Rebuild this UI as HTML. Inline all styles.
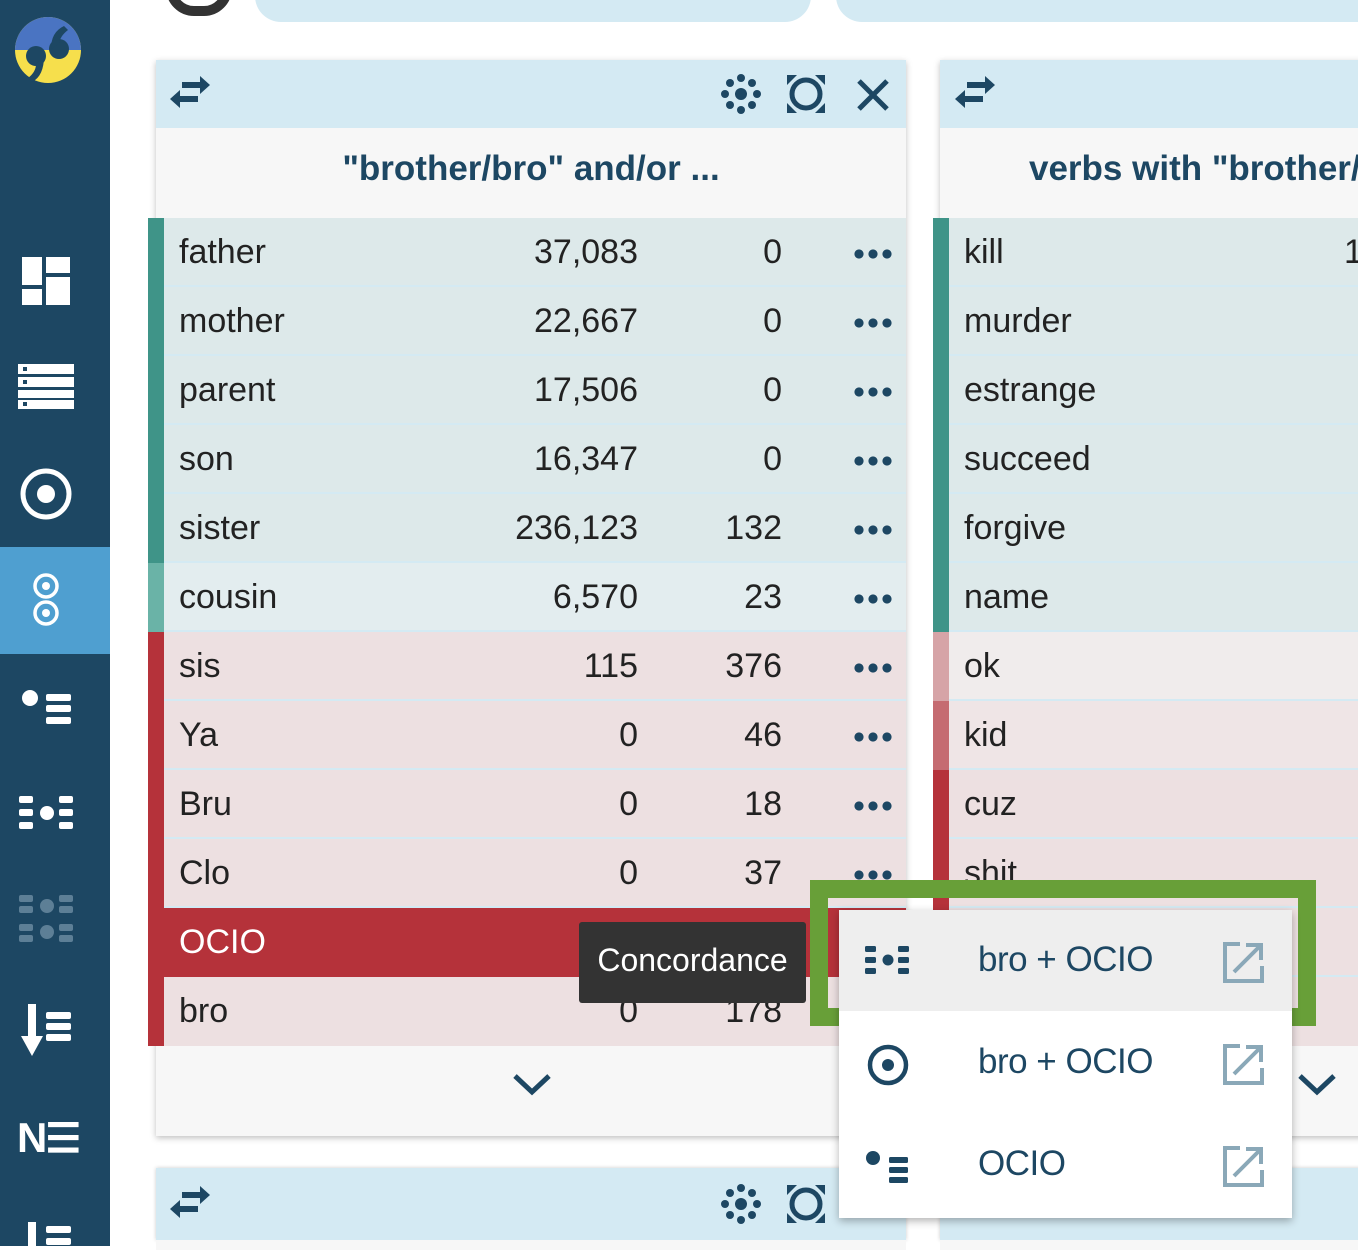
<!DOCTYPE html>
<html><head><meta charset="utf-8"><style>
*{margin:0;padding:0;box-sizing:border-box}
body{width:1358px;height:1246px;overflow:hidden;background:#fff;font-family:"Liberation Sans",sans-serif;position:relative}
.a{position:absolute}
.sb{left:0;top:0;width:110px;height:1246px;background:#1d4763}
.hdr{background:#d4eaf3}
.row{position:absolute;height:69px;font-size:34px;color:#222;border-bottom:2px solid #d4eaf3}
.row span{position:absolute;top:15px}
.n1{right:268px;text-align:right}
.n2{right:124px;text-align:right}
.dots{position:absolute;left:690px;top:31px;width:38px;height:10px;background:radial-gradient(circle at 5px 5px,#1d4763 4.3px,transparent 4.8px) 0 0/14px 10px repeat-x}
</style></head><body>
<div class="a sb"></div>
<svg class="a" style="left:14px;top:16px" width="68" height="68" viewBox="0 0 68 68">
<circle cx="34" cy="34" r="33" fill="#f6df4c"/><path d="M1 34A33 33 0 0 1 67 34Z" fill="#4a74c2"/>
<circle cx="22" cy="40" r="10" fill="#1d4763"/><path d="M30 40 Q30 60 18 66 L14 62 Q22 56 22 48Z" fill="#1d4763"/>
<circle cx="45" cy="33" r="10" fill="#1d4763"/><path d="M37 33 Q37 16 50 10 L54 14 Q46 20 45 28Z" fill="#1d4763"/>
</svg>
<svg class="a" style="left:20px;top:255px" width="52" height="52"><rect x="2" y="2" width="20" height="28" fill="#fff"/><rect x="26" y="2" width="24" height="16" fill="#fff"/><rect x="2" y="34" width="20" height="16" fill="#fff"/><rect x="26" y="22" width="24" height="28" fill="#fff"/></svg>
<svg class="a" style="left:18px;top:364px" width="56" height="46"><rect x="0" y="0" width="56" height="10" fill="#fff"/><rect x="0" y="13" width="56" height="10" fill="#fff"/><rect x="0" y="26" width="56" height="8" fill="#fff"/><rect x="0" y="36" width="56" height="9" fill="#fff"/><rect x="5" y="3" width="4" height="4" fill="#1d4763"/><rect x="5" y="16" width="4" height="4" fill="#1d4763"/><rect x="5" y="38" width="4" height="4" fill="#1d4763"/></svg>
<svg class="a" style="left:18px;top:466px" width="56" height="56"><circle cx="28" cy="28" r="23" fill="none" stroke="#fff" stroke-width="5"/><circle cx="28" cy="28" r="9" fill="#fff"/></svg>
<div class="a" style="left:0;top:547px;width:110px;height:107px;background:#4f9fd0"></div>
<svg class="a" style="left:30px;top:570px" width="32" height="60"><circle cx="16" cy="16" r="11" fill="none" stroke="#fff" stroke-width="3.5"/><circle cx="16" cy="16" r="4" fill="#fff"/><circle cx="16" cy="43" r="11" fill="none" stroke="#fff" stroke-width="3.5"/><circle cx="16" cy="43" r="4" fill="#fff"/></svg>
<svg class="a" style="left:20px;top:688px" width="54" height="40"><circle cx="10" cy="10" r="8" fill="#fff"/><rect x="26" y="6" width="25" height="7" rx="2" fill="#fff"/><rect x="26" y="17" width="25" height="7" rx="2" fill="#fff"/><rect x="26" y="29" width="25" height="7" rx="2" fill="#fff"/></svg>
<svg class="a" style="left:18px;top:792px" width="58" height="44"><g fill="#fff"><rect x="1" y="4" width="14" height="7" rx="2"/><rect x="1" y="17" width="14" height="7" rx="2"/><rect x="1" y="30" width="14" height="7" rx="2"/><circle cx="29" cy="21" r="7"/><rect x="41" y="4" width="14" height="7" rx="2"/><rect x="41" y="17" width="14" height="7" rx="2"/><rect x="41" y="30" width="14" height="7" rx="2"/></g></svg>
<svg class="a" style="left:18px;top:892px" width="58" height="58"><g fill="#5d7f96"><rect x="1" y="3" width="14" height="7" rx="2"/><rect x="1" y="14" width="14" height="7" rx="2"/><rect x="1" y="32" width="14" height="7" rx="2"/><rect x="1" y="43" width="14" height="7" rx="2"/><circle cx="29" cy="14" r="7"/><circle cx="29" cy="40" r="7"/><rect x="41" y="3" width="14" height="7" rx="2"/><rect x="41" y="14" width="14" height="7" rx="2"/><rect x="41" y="32" width="14" height="7" rx="2"/><rect x="41" y="43" width="14" height="7" rx="2"/></g></svg>
<svg class="a" style="left:20px;top:1002px" width="54" height="56"><g fill="#fff"><rect x="8" y="2" width="8" height="34"/><path d="M1 34 L23 34 L12 54Z"/><rect x="26" y="10" width="25" height="7" rx="2"/><rect x="26" y="21" width="25" height="7" rx="2"/><rect x="26" y="32" width="25" height="7" rx="2"/></g></svg>
<div class="a" style="left:17px;top:1114px;font-size:42px;font-weight:bold;color:#fff;letter-spacing:-2px">N<span style="font-size:40px">☰</span></div>
<svg class="a" style="left:20px;top:1220px" width="54" height="26"><g fill="#fff"><rect x="8" y="2" width="8" height="24"/><rect x="26" y="6" width="25" height="7" rx="2"/><rect x="26" y="18" width="25" height="7" rx="2"/></g></svg>

<div class="a" style="left:166px;top:-40px;width:66px;height:56px;border-radius:33px;border:10px solid #333"></div>
<div class="a" style="left:255px;top:-30px;width:556px;height:52px;border-radius:26px;background:#d4eaf3"></div>
<div class="a" style="left:836px;top:-30px;width:560px;height:52px;border-radius:26px;background:#d4eaf3"></div>

<div class="a" style="left:156px;top:60px;width:750px;height:1076px;background:#f7f7f7;box-shadow:0 2px 6px rgba(0,0,0,.25)"></div>
<div class="a hdr" style="left:156px;top:60px;width:750px;height:68px"></div>
<svg class="a" style="left:168px;top:76px" width="44" height="34"><g fill="#1d4763"><rect x="14" y="6" width="20" height="6"/><path d="M32 0 L42 9 L32 18Z"/><rect x="10" y="20" width="20" height="6"/><path d="M12 14 L2 23 L12 32Z"/></g></svg>
<svg class="a" style="left:720px;top:73px" width="44" height="44"><g fill="#1d4763"><circle cx="21" cy="21" r="6"/><circle cx="21" cy="5" r="4"/><circle cx="21" cy="37" r="4"/><circle cx="5" cy="21" r="4"/><circle cx="37" cy="21" r="4"/><circle cx="10" cy="10" r="4"/><circle cx="32" cy="10" r="4"/><circle cx="10" cy="32" r="4"/><circle cx="32" cy="32" r="4"/></g></svg>
<svg class="a" style="left:787px;top:75px" width="40" height="40"><circle cx="19" cy="19" r="14" fill="none" stroke="#1d4763" stroke-width="5"/><g fill="#1d4763"><path d="M0 0H10L0 10Z"/><path d="M38 0H28L38 10Z"/><path d="M0 38H10L0 28Z"/><path d="M38 38H28L38 28Z"/></g></svg>
<svg class="a" style="left:856px;top:78px" width="34" height="34"><path d="M3 3L31 31M31 3L3 31" stroke="#1d4763" stroke-width="5"/></svg>
<div class="a" style="left:156px;top:149px;width:750px;text-align:center;font-size:35px;font-weight:bold;color:#1d4763">"brother/bro" and/or ...</div>

<div class="a" style="left:148px;top:218px;width:16px;height:414px;background:#3f9488"></div>
<div class="a" style="left:148px;top:563px;width:16px;height:69px;background:#6ab3a7"></div>
<div class="a" style="left:148px;top:632px;width:16px;height:414px;background:#b5323a"></div>

<div class="row" style="left:164px;top:218px;width:742px;background:#dde9ea"><span style="left:15px">father</span><span class="n1">37,083</span><span class="n2">0</span><i class="dots"></i></div>
<div class="row" style="left:164px;top:287px;width:742px;background:#dde9ea"><span style="left:15px">mother</span><span class="n1">22,667</span><span class="n2">0</span><i class="dots"></i></div>
<div class="row" style="left:164px;top:356px;width:742px;background:#dde9ea"><span style="left:15px">parent</span><span class="n1">17,506</span><span class="n2">0</span><i class="dots"></i></div>
<div class="row" style="left:164px;top:425px;width:742px;background:#dde9ea"><span style="left:15px">son</span><span class="n1">16,347</span><span class="n2">0</span><i class="dots"></i></div>
<div class="row" style="left:164px;top:494px;width:742px;background:#dde9ea"><span style="left:15px">sister</span><span class="n1">236,123</span><span class="n2">132</span><i class="dots"></i></div>
<div class="row" style="left:164px;top:563px;width:742px;background:#e3edef"><span style="left:15px">cousin</span><span class="n1">6,570</span><span class="n2">23</span><i class="dots"></i></div>
<div class="row" style="left:164px;top:632px;width:742px;background:#ede0e1"><span style="left:15px">sis</span><span class="n1">115</span><span class="n2">376</span><i class="dots"></i></div>
<div class="row" style="left:164px;top:701px;width:742px;background:#ede0e1"><span style="left:15px">Ya</span><span class="n1">0</span><span class="n2">46</span><i class="dots"></i></div>
<div class="row" style="left:164px;top:770px;width:742px;background:#ede0e1"><span style="left:15px">Bru</span><span class="n1">0</span><span class="n2">18</span><i class="dots"></i></div>
<div class="row" style="left:164px;top:839px;width:742px;background:#ede0e1"><span style="left:15px">Clo</span><span class="n1">0</span><span class="n2">37</span><i class="dots"></i></div>
<div class="row" style="left:148px;top:908px;width:758px;background:#b5323a;color:#fff;border:none"><span style="left:31px">OCIO</span></div>
<div class="row" style="left:164px;top:977px;width:742px;height:69px;background:#ede0e1;border:none"><span style="left:15px">bro</span><span class="n1">0</span><span class="n2">178</span></div>
<svg class="a" style="left:512px;top:1072px" width="40" height="26"><path d="M3 4L20 20L37 4" fill="none" stroke="#1d4763" stroke-width="5"/></svg>

<div class="a" style="left:940px;top:60px;width:430px;height:1076px;background:#f7f7f7;box-shadow:0 2px 6px rgba(0,0,0,.25)"></div>
<div class="a hdr" style="left:940px;top:60px;width:430px;height:68px"></div>
<svg class="a" style="left:953px;top:76px" width="44" height="34"><g fill="#1d4763"><rect x="14" y="6" width="20" height="6"/><path d="M32 0 L42 9 L32 18Z"/><rect x="10" y="20" width="20" height="6"/><path d="M12 14 L2 23 L12 32Z"/></g></svg>
<div class="a" style="left:1029px;top:149px;font-size:35px;font-weight:bold;color:#1d4763;white-space:nowrap">verbs with "brother/</div>
<div class="a" style="left:933px;top:218px;width:16px;height:414px;background:#3f9488"></div>
<div class="a" style="left:933px;top:632px;width:16px;height:69px;background:#d6a4a7"></div>
<div class="a" style="left:933px;top:701px;width:16px;height:69px;background:#c56b71"></div>
<div class="a" style="left:933px;top:770px;width:16px;height:276px;background:#b5323a"></div>
<div class="row" style="left:949px;top:218px;width:420px;background:#dde9ea"><span style="left:15px">kill</span><span style="left:395px">1</span></div>
<div class="row" style="left:949px;top:287px;width:420px;background:#dde9ea"><span style="left:15px">murder</span></div>
<div class="row" style="left:949px;top:356px;width:420px;background:#dde9ea"><span style="left:15px">estrange</span></div>
<div class="row" style="left:949px;top:425px;width:420px;background:#dde9ea"><span style="left:15px">succeed</span></div>
<div class="row" style="left:949px;top:494px;width:420px;background:#dde9ea"><span style="left:15px">forgive</span></div>
<div class="row" style="left:949px;top:563px;width:420px;background:#dde9ea"><span style="left:15px">name</span></div>
<div class="row" style="left:949px;top:632px;width:420px;background:#f0ecec"><span style="left:15px">ok</span></div>
<div class="row" style="left:949px;top:701px;width:420px;background:#efe5e6"><span style="left:15px">kid</span></div>
<div class="row" style="left:949px;top:770px;width:420px;background:#ede0e1"><span style="left:15px">cuz</span></div>
<div class="row" style="left:949px;top:839px;width:420px;background:#ede0e1"><span style="left:15px">shit</span></div>
<div class="row" style="left:949px;top:908px;width:420px;background:#ede0e1"></div>
<div class="row" style="left:949px;top:977px;width:420px;background:#ede0e1;border:none"></div>
<svg class="a" style="left:1297px;top:1072px" width="40" height="26"><path d="M3 4L20 20L37 4" fill="none" stroke="#1d4763" stroke-width="5"/></svg>

<div class="a hdr" style="left:156px;top:1168px;width:750px;height:72px;box-shadow:0 0 4px rgba(0,0,0,.2)"></div>
<div class="a" style="left:156px;top:1240px;width:750px;height:10px;background:#f7f7f7"></div>
<svg class="a" style="left:168px;top:1186px" width="44" height="34"><g fill="#1d4763"><rect x="14" y="6" width="20" height="6"/><path d="M32 0 L42 9 L32 18Z"/><rect x="10" y="20" width="20" height="6"/><path d="M12 14 L2 23 L12 32Z"/></g></svg>
<svg class="a" style="left:720px;top:1183px" width="44" height="44"><g fill="#1d4763"><circle cx="21" cy="21" r="6"/><circle cx="21" cy="5" r="4"/><circle cx="21" cy="37" r="4"/><circle cx="5" cy="21" r="4"/><circle cx="37" cy="21" r="4"/><circle cx="10" cy="10" r="4"/><circle cx="32" cy="10" r="4"/><circle cx="10" cy="32" r="4"/><circle cx="32" cy="32" r="4"/></g></svg>
<svg class="a" style="left:787px;top:1185px" width="40" height="40"><circle cx="19" cy="19" r="14" fill="none" stroke="#1d4763" stroke-width="5"/><g fill="#1d4763"><path d="M0 0H10L0 10Z"/><path d="M38 0H28L38 10Z"/><path d="M0 38H10L0 28Z"/><path d="M38 38H28L38 28Z"/></g></svg>
<div class="a hdr" style="left:940px;top:1168px;width:430px;height:72px;box-shadow:0 0 4px rgba(0,0,0,.2)"></div>
<div class="a" style="left:940px;top:1240px;width:430px;height:10px;background:#f7f7f7"></div>

<div class="a" style="left:579px;top:922px;width:227px;height:81px;background:#333;border-radius:3px;color:#fff;font-size:32px;text-align:center;line-height:77px">Concordance</div>

<div class="a" style="left:810px;top:880px;width:506px;height:146px;border:18px solid #689f38"></div>
<div class="a" style="left:839px;top:910px;width:453px;height:308px;background:#fff;box-shadow:0 3px 8px rgba(0,0,0,.3)"></div>
<div class="a" style="left:839px;top:910px;width:453px;height:101px;background:#eeeeee"></div>
<svg class="a" style="left:864px;top:944px" width="48" height="36"><g fill="#1d4763"><rect x="1" y="2" width="11" height="6" rx="1.5"/><rect x="1" y="13" width="11" height="6" rx="1.5"/><rect x="1" y="24" width="11" height="6" rx="1.5"/><circle cx="24" cy="16" r="5.5"/><rect x="34" y="2" width="11" height="6" rx="1.5"/><rect x="34" y="13" width="11" height="6" rx="1.5"/><rect x="34" y="24" width="11" height="6" rx="1.5"/></g></svg>
<svg class="a" style="left:864px;top:1041px" width="48" height="48"><circle cx="24" cy="24" r="18" fill="none" stroke="#1d4763" stroke-width="4.5"/><circle cx="24" cy="24" r="6" fill="#1d4763"/></svg>
<svg class="a" style="left:864px;top:1149px" width="48" height="36"><circle cx="9" cy="9" r="7" fill="#1d4763"/><g fill="#1d4763"><rect x="25" y="8" width="19" height="6" rx="1.5"/><rect x="25" y="18" width="19" height="6" rx="1.5"/><rect x="25" y="28" width="19" height="6" rx="1.5"/></g></svg>
<div class="a" style="left:978px;top:940px;font-size:35px;color:#1d4763;letter-spacing:-0.5px">bro + OCIO</div>
<div class="a" style="left:978px;top:1042px;font-size:35px;color:#1d4763;letter-spacing:-0.5px">bro + OCIO</div>
<div class="a" style="left:978px;top:1144px;font-size:35px;color:#1d4763;letter-spacing:-0.5px">OCIO</div>
<svg class="a" style="left:1222px;top:941px" width="44" height="44"><path d="M18 3H3V40H40V25" fill="none" stroke="#8aa8b8" stroke-width="4"/><path d="M12 31L38 5M24 4H39V19" fill="none" stroke="#8aa8b8" stroke-width="4"/></svg>
<svg class="a" style="left:1222px;top:1043px" width="44" height="44"><path d="M18 3H3V40H40V25" fill="none" stroke="#8aa8b8" stroke-width="4"/><path d="M12 31L38 5M24 4H39V19" fill="none" stroke="#8aa8b8" stroke-width="4"/></svg>
<svg class="a" style="left:1222px;top:1145px" width="44" height="44"><path d="M18 3H3V40H40V25" fill="none" stroke="#8aa8b8" stroke-width="4"/><path d="M12 31L38 5M24 4H39V19" fill="none" stroke="#8aa8b8" stroke-width="4"/></svg>
</body></html>
